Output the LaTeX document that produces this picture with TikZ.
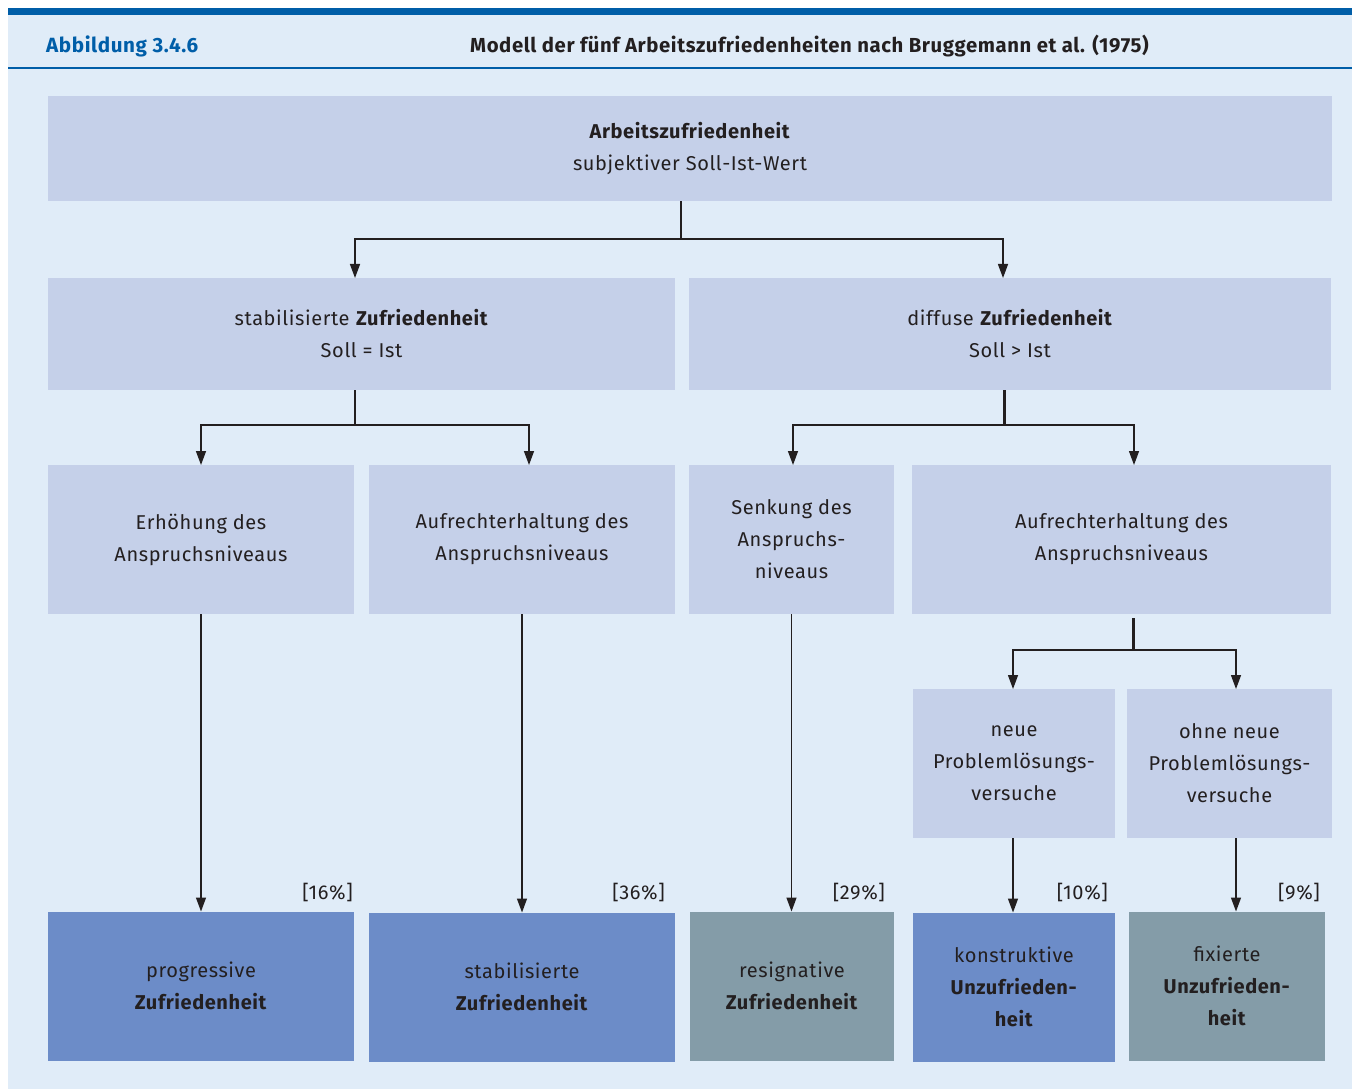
\documentclass[tikz,border=0pt]{standalone}
\usepackage{fontspec}
\setmainfont[LetterSpace=3]{Fira Sans}
\usepackage{xcolor}
\usepackage{tikz}
\usetikzlibrary{arrows.meta,positioning,calc}
\definecolor{abbblue}{RGB}{0,94,168}
\definecolor{panelbg}{RGB}{224,236,248}
\definecolor{boxbg}{RGB}{197,208,233}
\definecolor{resblue}{RGB}{108,140,200}
\definecolor{resgray}{RGB}{132,156,168}
\definecolor{inkc}{RGB}{35,31,32}
\tikzset{
  lvbox/.style={fill=boxbg,inner sep=0pt,outer sep=0pt,align=center,text=inkc},
  resbox/.style={inner sep=0pt,outer sep=0pt,align=center,text=inkc},
  link/.style={draw=inkc,line width=1.4pt},
  pct/.style={anchor=south east,inner sep=0pt,text=inkc}
}
\begin{document}
\begin{tikzpicture}[x=1pt,y=-1pt,>={Triangle[length=14pt,width=10pt]},
  font=\fontsize{20}{32}\selectfont]
  \useasboundingbox (0,0) rectangle (1357,1091);
  \fill[panelbg] (8,8) rectangle (1352,1089);
  \fill[abbblue] (8,8) rectangle (1352,15);
  \draw[abbblue,line width=1.4pt] (8,68) -- (1352,68);
  \node[anchor=west,inner sep=0pt,text=abbblue,font=\fontsize{20.6}{22}\selectfont\bfseries] (fignum) at (46,46) {Abbildung 3.4.6};
  \node[anchor=west,inner sep=0pt,text=inkc,font=\fontsize{20.3}{22}\selectfont\bfseries] (figtitle) at (470,46) {Modell der fünf Arbeitszufriedenheiten nach Bruggemann et al. (1975)};

  % boxes
  \node[lvbox,minimum width=1284pt,minimum height=105pt] (top) at (690,149) {\textbf{Arbeitszufriedenheit}\\subjektiver Soll-Ist-Wert};
  \node[lvbox,minimum width=627pt,minimum height=112pt] (stab) at (361.5,334) {stabilisierte \textbf{Zufriedenheit}\\Soll = Ist};
  \node[lvbox,minimum width=642pt,minimum height=112pt] (diff) at (1010,334) {diffuse \textbf{Zufriedenheit}\\Soll > Ist};
  \node[lvbox,minimum width=306pt,minimum height=149pt] (erh) at (201,539.5) {Erhöhung des\\Anspruchsniveaus};
  \node[lvbox,minimum width=306pt,minimum height=149pt] (aufa) at (522,539.5) {Aufrechterhaltung des\\Anspruchsniveaus};
  \node[lvbox,minimum width=205pt,minimum height=149pt] (senk) at (791.5,539.5) {Senkung des\\Anspruchs-\\niveaus};
  \node[lvbox,minimum width=419pt,minimum height=149pt] (aufb) at (1121.5,539.5) {Aufrechterhaltung des\\Anspruchsniveaus};
  \node[lvbox,minimum width=202pt,minimum height=149pt] (neu) at (1014,763.5) {neue\\Problemlösungs-\\versuche};
  \node[lvbox,minimum width=205pt,minimum height=149pt] (ohne) at (1229.5,763.5) {ohne neue\\Problemlösungs-\\versuche};

  \node[resbox,fill=resblue,minimum width=306pt,minimum height=149pt] (prog) at (201,986) {progressive\\\textbf{Zufriedenheit}};
  \node[resbox,fill=resblue,minimum width=306pt,minimum height=149pt] (stabz) at (522,987) {stabilisierte\\\textbf{Zufriedenheit}};
  \node[resbox,fill=resgray,minimum width=204pt,minimum height=149pt] (resig) at (792,986) {resignative\\\textbf{Zufriedenheit}};
  \node[resbox,fill=resblue,minimum width=202pt,minimum height=149pt] (konst) at (1014,987) {konstruktive\\\textbf{Unzufrieden-}\\\textbf{heit}};
  \node[resbox,fill=resgray,minimum width=196pt,minimum height=149pt] (fix) at (1227,986) {fixierte\\\textbf{Unzufrieden-}\\\textbf{heit}};

  % percentages
  \node[pct] (p16) at (353,902) {[16\%]};
  \node[pct] (p36) at (665,902) {[36\%]};
  \node[pct] (p29) at (885,902) {[29\%]};
  \node[pct] (p10) at (1108,902) {[10\%]};
  \node[pct] (p9) at (1320,902) {[9\%]};

  % connectors
  \coordinate (j1) at (681,239);
  \draw[link] (j1 |- top.south) -- (j1);
  \draw[link,->] (j1) -| ([xshift=-6.5pt]stab.north);
  \draw[link,->] (j1) -| ([xshift=-7pt]diff.north);

  \coordinate (j2) at (355,425);
  \draw[link] (j2 |- stab.south) -- (j2);
  \draw[link,->] (j2) -| (erh.north);
  \draw[link,->] (j2) -| ([xshift=7pt]aufa.north);

  \coordinate (j3) at (1004,425);
  \draw[link,line width=3pt] (j3 |- diff.south) -- (j3);
  \draw[link,->] (j3) -| ([xshift=1.5pt]senk.north);
  \draw[link,->] (j3) -| ([xshift=12.5pt]aufb.north);

  \coordinate (j4) at (1133,650);
  \draw[link,line width=3pt] ([yshift=-4pt]j4 |- aufb.south) -- (j4);
  \draw[link,->] (j4) -| ([xshift=-1pt]neu.north);
  \draw[link,->] (j4) -| ([xshift=6.5pt]ohne.north);

  \draw[link,->] (erh) -- (prog);
  \draw[link,->] (aufa.south) -- (aufa.south |- stabz.north);
  \draw[link,->] (senk.south) -- (senk.south |- resig.north);
  \draw[link,->] ([xshift=-1pt]neu.south) -- ([xshift=-1pt]neu.south |- konst.north);
  \draw[link,->] ([xshift=6.5pt]ohne.south) -- ([xshift=6.5pt]ohne.south |- fix.north);
\end{tikzpicture}
\end{document}
